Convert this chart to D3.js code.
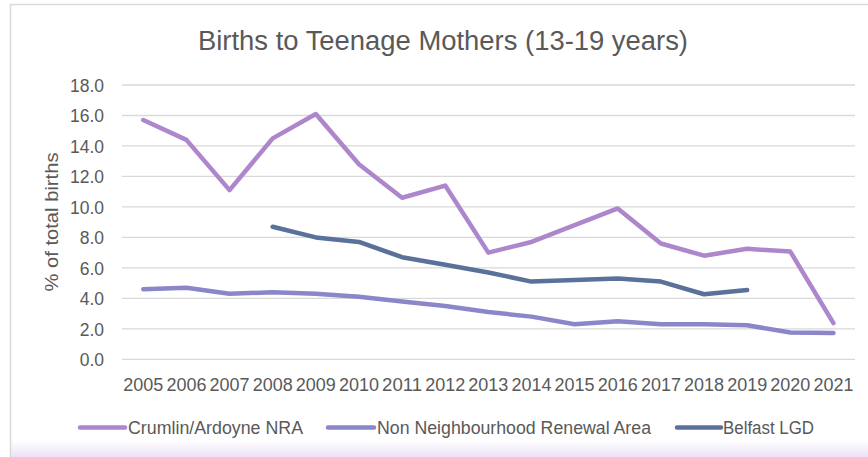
<!DOCTYPE html>
<html><head><meta charset="utf-8">
<script src="https://cdn.jsdelivr.net/npm/d3@7"></script>
<style>
html,body{margin:0;padding:0;background:#fff;}
svg{display:block;}
text{font-family:"Liberation Sans",Arial,sans-serif;fill:#595959;}
</style></head>
<body>
<svg id="chart" width="868" height="457"></svg>
<script>
const years = [2005,2006,2007,2008,2009,2010,2011,2012,2013,2014,2015,2016,2017,2018,2019,2020,2021];
const crumlin = [15.7,14.4,11.1,14.5,16.1,12.8,10.6,11.4,7.0,7.7,8.8,9.9,7.6,6.8,7.25,7.07,2.37];
const nonNRA  = [4.6,4.7,4.3,4.4,4.3,4.1,3.8,3.5,3.1,2.8,2.3,2.5,2.3,2.3,2.23,1.76,1.72];
const belfast = [null,null,null,8.7,8.0,7.7,6.7,6.2,5.7,5.1,5.2,5.3,5.1,4.27,4.55,null,null];
const yTicks = [0,2,4,6,8,10,12,14,16,18];
const seriesNames = ["Crumlin/Ardoyne NRA","Non Neighbourhood Renewal Area","Belfast LGD"];
const seriesColors = ["#ad86cb","#8b86ca","#5a7199"];
const title = "Births to Teenage Mothers (13-19 years)";
const yTitle = "% of total births";

const svg = d3.select("#chart");

// background gradient at bottom
const defs = svg.append("defs");
const grad = defs.append("linearGradient").attr("id","bg").attr("x1",0).attr("y1",0).attr("x2",0).attr("y2",1);
grad.append("stop").attr("offset","0%").attr("stop-color","#ffffff");
grad.append("stop").attr("offset","100%").attr("stop-color","#ece2f6");
svg.append("rect").attr("x",10).attr("y",440).attr("width",858).attr("height",17).attr("fill","url(#bg)");

// border
svg.append("path").attr("d","M10.5,457 V4.5 H868").attr("fill","none").attr("stroke","#d9d9d9").attr("stroke-width",1.5);

const x = d3.scaleBand().domain(years).range([121.7,855]).padding(0);
const xc = d => x(d) + x.bandwidth()/2;
const y = d3.scaleLinear().domain([0,18]).range([359.3,85]);

// gridlines
const yAxis = d3.axisLeft(y).tickValues(yTicks).tickFormat(d3.format(".1f")).tickSize(0).tickPadding(0);
const gy = svg.append("g").attr("transform","translate(104,0)").call(yAxis);
gy.select(".domain").remove();
gy.selectAll("text").attr("font-size",17.5).attr("fill","#595959").attr("font-family","Liberation Sans, Arial, sans-serif").attr("dy","0.36em");

svg.append("g").selectAll("line").data(yTicks).join("line")
  .attr("x1",122).attr("x2",855)
  .attr("y1",d=>y(d)).attr("y2",d=>y(d))
  .attr("stroke","#d9d9d9").attr("stroke-width",1.3);

// x axis
const xAxis = d3.axisBottom(x).tickSize(0).tickPadding(0);
const gx = svg.append("g").attr("transform","translate(0,385)").call(xAxis);
gx.select(".domain").remove();
gx.selectAll("text").attr("font-size",17.5).attr("fill","#595959").attr("font-family","Liberation Sans, Arial, sans-serif").attr("dy","0.36em")
  .attr("textLength",40).attr("lengthAdjust","spacingAndGlyphs");

// lines
const data = [crumlin, nonNRA, belfast];
const line = d3.line().defined(d=>d.v!=null).x(d=>xc(d.yr)).y(d=>y(d.v));
[1,2,0].forEach(i=>{
  const pts = years.map((yr,j)=>({yr, v:data[i][j]}));
  svg.append("path").datum(pts).attr("d",line)
    .attr("fill","none").attr("stroke",seriesColors[i]).attr("stroke-width",4.5)
    .attr("stroke-linejoin","round").attr("stroke-linecap","round");
});

// title
svg.append("text").attr("x",443).attr("y",50).attr("text-anchor","middle")
  .attr("font-size",27).attr("textLength",490).attr("lengthAdjust","spacingAndGlyphs").text(title);

// y title
svg.append("text").attr("transform","translate(58,222) rotate(-90)").attr("text-anchor","middle")
  .attr("font-size",17.5).attr("textLength",139).attr("lengthAdjust","spacingAndGlyphs").text(yTitle);

// legend
const legend = [
  {x1:80,x2:125,tx:128,tw:175},
  {x1:328,x2:374,tx:377,tw:274},
  {x1:677,x2:721,tx:723,tw:91}
];
legend.forEach((l,i)=>{
  svg.append("line").attr("x1",l.x1).attr("x2",l.x2).attr("y1",427.5).attr("y2",427.5)
    .attr("stroke",seriesColors[i]).attr("stroke-width",4.5).attr("stroke-linecap","round");
  svg.append("text").attr("x",l.tx).attr("y",433.7).attr("font-size",17.5)
    .attr("textLength",l.tw).attr("lengthAdjust","spacingAndGlyphs").text(seriesNames[i]);
});
</script>
</body></html>
